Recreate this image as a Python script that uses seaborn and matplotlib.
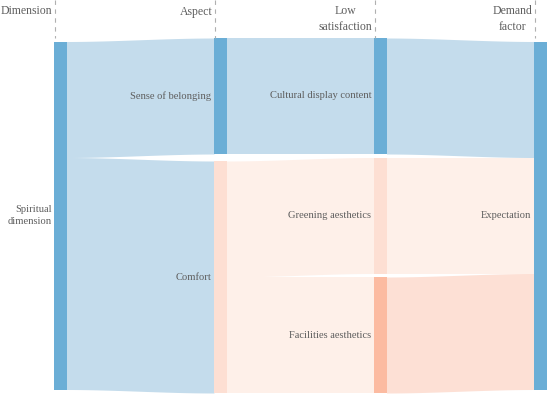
import numpy as np
import matplotlib
matplotlib.use("Agg")
from matplotlib import pyplot as plt
import seaborn as sns

# columns of the sankey
columns = ["Dimension", "Aspect", "Low\nsatisfaction", "Demand\nfactor"]

# nodes
node_names = ["Spiritual\ndimension", "Sense of belonging", "Comfort",
              "Cultural display content", "Greening aesthetics",
              "Facilities aesthetics", "Expectation"]
node_col = [0, 1, 1, 2, 2, 2, 3]
node_colors = ["#6baed6", "#6baed6", "#fddfd3", "#6baed6", "#fddfd3", "#fcbba1", "#6baed6"]

# links
link_src = [0, 0, 1, 2, 2, 3, 4, 5]
link_tgt = [1, 2, 3, 4, 5, 6, 6, 6]
link_val = [1, 2, 1, 1, 1, 1, 1, 1]
link_colors = ["#c4dcec", "#c4dcec", "#c4dcec", "#fef0e9", "#fef0e9", "#c4dcec", "#fef0e9", "#fde0d5"]

sns.set_theme(style="white")
plt.rcParams["font.family"] = ["Liberation Serif", "DejaVu Serif"]
grey = "#5e5e5e"

fig = plt.figure(figsize=(5.5, 3.96), dpi=100)
ax = fig.add_axes([0, 0, 1, 1])
ax.set_xlim(0, 550)
ax.set_ylim(396, 0)
ax.axis("off")

col_x = [54, 214, 374, 534]
node_w = 12.5
top, bottom = 38, 393
scale = 116

# node values
n = len(node_names)
val_in = np.zeros(n)
val_out = np.zeros(n)
for s, t, v in zip(link_src, link_tgt, link_val):
    val_out[s] += v
    val_in[t] += v
node_val = np.maximum(val_in, val_out)

# vertical layout per column
node_y = np.zeros(n)
for c in range(len(columns)):
    idx = [i for i in range(n) if node_col[i] == c]
    hs = node_val[idx] * scale
    if len(idx) == 1:
        node_y[idx[0]] = (top + bottom) / 2 - hs[0] / 2
    else:
        gap = (bottom - top - hs.sum()) / (len(idx) - 1)
        y = top
        for i, h in zip(idx, hs):
            node_y[i] = y
            y += h + gap

# links
out_off = node_y.copy()
in_off = node_y.copy()
for s, t, v, col in zip(link_src, link_tgt, link_val, link_colors):
    h = v * scale
    x0 = col_x[node_col[s]] + node_w
    x1 = col_x[node_col[t]]
    xs = np.linspace(x0, x1, 100)
    k = (xs - x0) / (x1 - x0)
    k = k * k * (3 - 2 * k)
    y_top = out_off[s] + (in_off[t] - out_off[s]) * k
    ax.fill_between(xs, y_top, y_top + h, color=col, lw=0)
    out_off[s] += h
    in_off[t] += h

# nodes
for i in range(n):
    ax.bar(col_x[node_col[i]], node_val[i] * scale, bottom=node_y[i], width=node_w,
           align="edge", color=node_colors[i], lw=0)
    ax.text(col_x[node_col[i]] - 2.5, node_y[i] + node_val[i] * scale / 2, node_names[i],
            ha="right", va="center", multialignment="right", fontsize=7.6, color=grey,
            linespacing=1.35)

# column headers and dashed guides
for c, name in enumerate(columns):
    x = col_x[c] + 0.5
    ax.plot([x, x], [0, top], color="#b0b0b0", lw=0.8, ls=(0, (4, 4)))
    ax.text(x - 2, 5.5, name, ha="right", va="top", multialignment="center",
            fontsize=8.5, color=grey, linespacing=1.35)

fig.savefig("out.png", dpi=100)
